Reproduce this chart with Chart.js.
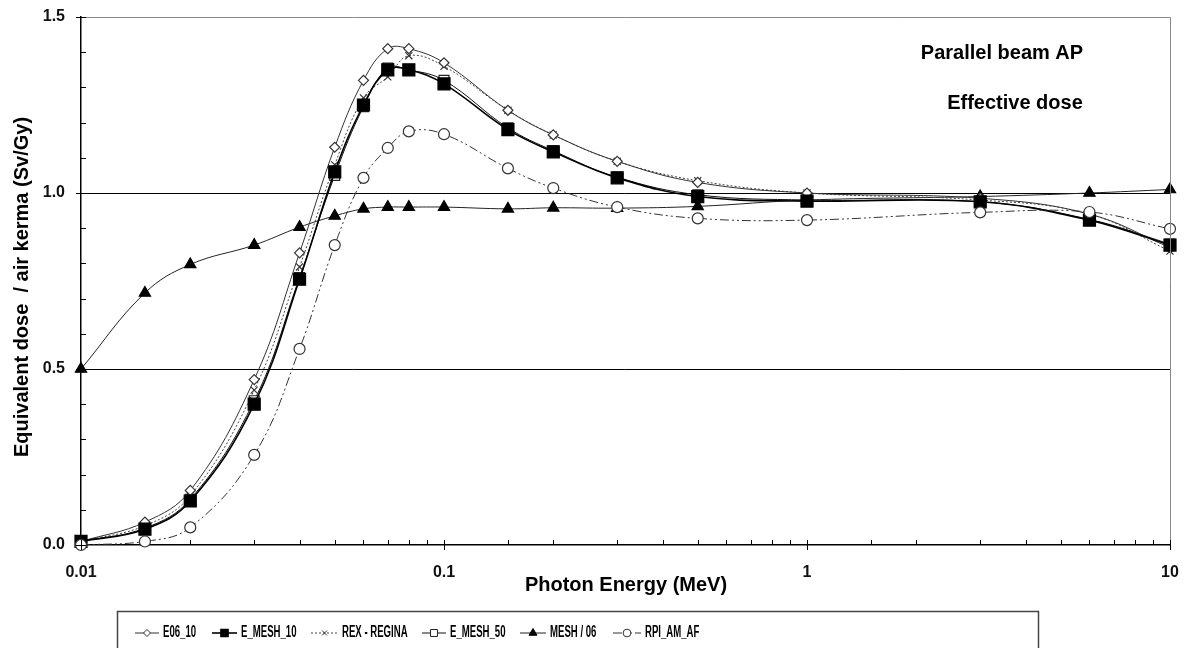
<!DOCTYPE html>
<html>
<head>
<meta charset="utf-8">
<script src="https://cdn.jsdelivr.net/npm/chart.js@4.4.1/dist/chart.umd.min.js"></script>
<style>
  html, body { margin: 0; padding: 0; background: #fff; }
  #wrap { width: 1184px; height: 648px; }
</style>
</head>
<body>
<div id="wrap"><canvas id="doseChart" width="1184" height="648"></canvas></div>
<script>
// photon energies (MeV)
const energies = [0.01, 0.015, 0.02, 0.03, 0.04, 0.05, 0.06, 0.07, 0.08, 0.1, 0.15, 0.2, 0.3, 0.5, 1, 3, 6, 10];

// effective dose / air kerma (Sv/Gy)
const e06_10    = [0.01, 0.065, 0.155, 0.47, 0.83, 1.13, 1.32, 1.41, 1.41, 1.37, 1.235, 1.165, 1.09, 1.03, 1.0, 0.985, 0.94, 0.845];
const eMesh10   = [0.01, 0.045, 0.125, 0.40, 0.755, 1.06, 1.25, 1.35, 1.35, 1.31, 1.18, 1.117, 1.043, 0.99, 0.977, 0.975, 0.923, 0.852];
const rexRegina = [0.01, 0.055, 0.14, 0.44, 0.79, 1.08, 1.27, 1.33, 1.39, 1.36, 1.235, 1.165, 1.09, 1.035, 1.0, 0.98, 0.94, 0.835];
const eMesh50   = [0.01, 0.048, 0.13, 0.41, 0.76, 1.05, 1.245, 1.355, 1.35, 1.32, 1.185, 1.12, 1.045, 0.995, 0.98, 0.975, 0.925, 0.855];
const mesh06    = [0.5, 0.716, 0.797, 0.852, 0.903, 0.935, 0.955, 0.96, 0.96, 0.96, 0.955, 0.958, 0.957, 0.962, 0.98, 0.99, 1.0, 1.01];
const rpiAmAf   = [0.0, 0.01, 0.05, 0.256, 0.557, 0.852, 1.043, 1.128, 1.175, 1.167, 1.07, 1.014, 0.96, 0.928, 0.923, 0.945, 0.946, 0.898];

const seriesNames = ["E06_10", "E_MESH_10", "REX - REGINA", "E_MESH_50", "MESH / 06", "RPI_AM_AF"];
const xTickLabels = ["0.01", "0.1", "1", "10"];
const yTickLabels = ["0.0", "0.5", "1.0", "1.5"];

const boldFont = "'Liberation Sans', Arial, sans-serif";

function pts(values) {
  return energies.map((e, i) => ({ x: e, y: values[i] }));
}

const datasets = [
  { label: seriesNames[0], data: pts(e06_10), borderColor: "#333", borderWidth: 1, pointStyle: "rectRot",
    pointRadius: 5, pointBackgroundColor: "#fff", pointBorderColor: "#333", order: 3 },
  { label: seriesNames[1], data: pts(eMesh10), borderColor: "#000", borderWidth: 1.6, pointStyle: "rect",
    pointRadius: 8.5, pointBackgroundColor: "#000", pointBorderColor: "#000", order: 2 },
  { label: seriesNames[2], data: pts(rexRegina), borderColor: "#444", borderWidth: 1, borderDash: [2, 2], pointStyle: "crossRot",
    pointRadius: 5, pointBackgroundColor: "#fff", pointBorderColor: "#333", order: 4 },
  { label: seriesNames[3], data: pts(eMesh50), borderColor: "#111", borderWidth: 1, pointStyle: "rect",
    pointRadius: 7, pointBackgroundColor: "#fff", pointBorderColor: "#222", order: 6 },
  { label: seriesNames[4], data: pts(mesh06), borderColor: "#222", borderWidth: 1, pointStyle: "triangle",
    pointRadius: 6.5, pointBackgroundColor: "#000", pointBorderColor: "#000", order: 5 },
  { label: seriesNames[5], data: pts(rpiAmAf), borderColor: "#333", borderWidth: 1, borderDash: [9, 3, 2, 3, 2, 3], pointStyle: "circle",
    pointRadius: 5.5, pointBackgroundColor: "#fff", pointBorderColor: "#333", order: 1 },
];
datasets.forEach(d => { d.tension = 0.4; d.clip = false; d.pointBorderWidth = 1.2; d.fill = false; });

// legend item x positions (sample start, text start)
const legendSlots = [[135, 163], [212, 241], [311, 342], [422, 450], [520, 550], [613, 645]];

// tick marks inward (minor) / crossing (major), frame, titles, notes, legend
const decorPlugin = {
  id: "decor",
  afterDraw(chart) {
    const ctx = chart.ctx;
    const a = chart.chartArea;
    const xs = chart.scales.x, ys = chart.scales.y;
    ctx.save();

    // frame top + right
    ctx.strokeStyle = "#888";
    ctx.lineWidth = 1;
    ctx.beginPath();
    ctx.moveTo(a.left, a.top + 0.5);
    ctx.lineTo(a.right + 0.5, a.top + 0.5);
    ctx.lineTo(a.right + 0.5, a.bottom);
    ctx.stroke();

    // tick marks
    ctx.strokeStyle = "#000";
    ctx.lineWidth = 1;
    ctx.beginPath();
    ys.ticks.forEach(t => {
      const py = Math.round(ys.getPixelForValue(t.value)) + 0.5;
      const major = yTickLabels.includes((Math.round(t.value * 10) / 10).toFixed(1));
      ctx.moveTo(a.left - (major ? 5 : 0), py);
      ctx.lineTo(a.left + 5, py);
    });
    xs.ticks.forEach(t => {
      const px = Math.round(xs.getPixelForValue(t.value)) + 0.5;
      const major = xTickLabels.includes(String(+t.value.toPrecision(3)));
      ctx.moveTo(px, a.bottom - 5);
      ctx.lineTo(px, a.bottom + (major ? 5 : 0));
    });
    ctx.stroke();

    // axis titles
    ctx.fillStyle = "#000";
    ctx.font = "bold 20px " + boldFont;
    ctx.textAlign = "center";
    ctx.textBaseline = "middle";
    ctx.fillText("Photon Energy (MeV)", 626, 585);
    ctx.save();
    ctx.translate(22, 287);
    ctx.rotate(-Math.PI / 2);
    ctx.fillText("Equivalent dose  / air kerma (Sv/Gy)", 0, 0);
    ctx.restore();

    // notes
    ctx.fillText("Parallel beam AP", 1002, 53);
    ctx.fillText("Effective dose", 1015, 103);

    // legend
    ctx.strokeStyle = "#444";
    ctx.lineWidth = 1.5;
    ctx.strokeRect(117.5, 611.5, 921, 60);
    const ly = 633;
    chart.data.datasets.forEach((ds, i) => {
      const [sx, tx] = legendSlots[i];
      ctx.save();
      ctx.strokeStyle = ds.borderColor;
      ctx.lineWidth = ds.borderWidth;
      ctx.setLineDash(ds.borderDash || []);
      ctx.beginPath();
      ctx.moveTo(sx, ly);
      ctx.lineTo(tx - 4, ly);
      ctx.stroke();
      ctx.setLineDash([]);
      ctx.fillStyle = ds.pointBackgroundColor;
      ctx.strokeStyle = ds.pointBorderColor;
      Chart.helpers.drawPoint(ctx, { pointStyle: ds.pointStyle, radius: Math.min(ds.pointRadius * 0.7, 5), borderWidth: 1 }, (sx + tx - 4) / 2, ly);
      ctx.restore();
      ctx.save();
      ctx.translate(tx, ly);
      ctx.scale(0.6, 1);
      ctx.fillStyle = "#000";
      ctx.textAlign = "left";
      ctx.font = "bold 16px " + boldFont;
      ctx.fillText(ds.label, 0, 0);
      ctx.restore();
    });
    ctx.restore();
  }
};

new Chart(document.getElementById("doseChart"), {
  type: "line",
  data: { datasets: datasets },
  options: {
    responsive: false,
    animation: false,
    layout: { padding: { top: 17, right: 14, bottom: 48, left: 0 } },
    plugins: { legend: { display: false }, tooltip: { enabled: false } },
    scales: {
      x: {
        type: "logarithmic",
        min: 0.01,
        max: 10,
        afterFit: s => { s.height = 55; s.paddingLeft = 0; s.paddingRight = 0; },
        border: { color: "#000", width: 1.5 },
        grid: { drawOnChartArea: false, drawTicks: false },
        ticks: {
          autoSkip: false,
          maxRotation: 0,
          color: "#111",
          padding: 18,
          font: { family: boldFont, size: 16, weight: "bold" },
          callback: v => {
            const s = String(+v.toPrecision(3));
            return xTickLabels.includes(s) ? s : "";
          }
        }
      },
      y: {
        min: 0,
        max: 1.5,
        afterFit: s => { s.width = 81; s.paddingTop = 0; s.paddingBottom = 0; },
        border: { color: "#000", width: 1.5 },
        grid: {
          drawTicks: false,
          lineWidth: 1,
          color: c => {
            const v = Math.round(c.tick.value * 10) / 10;
            if (v === 1.5 || v === 0) return "rgba(0,0,0,0)";
            return yTickLabels.includes(v.toFixed(1)) ? "#000" : "rgba(0,0,0,0)";
          }
        },
        ticks: {
          stepSize: 0.1,
          color: "#111",
          padding: 16,
          font: { family: boldFont, size: 16, weight: "bold" },
          callback: v => {
            const s = (Math.round(v * 10) / 10).toFixed(1);
            return yTickLabels.includes(s) ? s : "";
          }
        }
      }
    }
  },
  plugins: [decorPlugin]
});
</script>
</body>
</html>
